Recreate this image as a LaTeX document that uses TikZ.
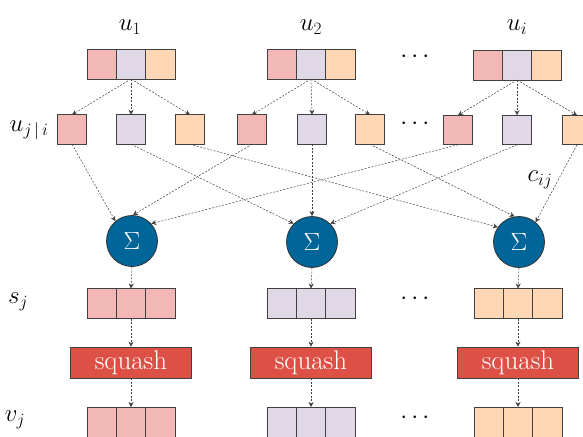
\documentclass[tikz,border=0pt]{standalone}
\usepackage{amsmath}
\usetikzlibrary{arrows.meta}
\usetikzlibrary{positioning}

\definecolor{vecred}{HTML}{F2B8B6}
\definecolor{veclilac}{HTML}{E0D7E7}
\definecolor{vecpeach}{HTML}{FFD7B5}
\definecolor{sumblue}{HTML}{00669A}
\definecolor{squashred}{HTML}{DD5045}

\begin{document}
\begin{tikzpicture}[
    x=1pt, y=-1pt,
    every node/.style={font=\fontsize{26}{30}\selectfont},
    cell/.style={draw=black!75, line width=0.8pt, minimum width=29.3pt, minimum height=30pt, inner sep=0pt, outer sep=0pt},
    pred/.style={cell, minimum width=29.5pt, minimum height=29.5pt},
    sumnode/.style={circle, draw=black!80, line width=0.8pt, fill=sumblue, text=white, minimum size=51pt, inner sep=0pt, font=\fontsize{29}{32}\selectfont},
    squashbox/.style={draw=black!75, line width=0.8pt, fill=squashred, text=white, minimum width=121pt, minimum height=31pt, inner sep=0pt, font=\fontsize{27}{30}\selectfont},
    arr/.style={-{Stealth[length=5pt,width=5pt]}, line width=0.5pt, black!75, dash pattern=on 2pt off 1.5pt}
]
\useasboundingbox (0,0) rectangle (583,436);

% Top: input capsules u_i
\node (lu1) at (130,27) {$u_1$};
\node (lu2) at (311,27) {$u_2$};
\node (lui) at (517,27) {$u_i$};

\node[cell, fill=veclilac] (u1b) at (131,64) {};
\node[cell, fill=vecred, left=0pt of u1b] (u1a) {};
\node[cell, fill=vecpeach, right=0pt of u1b] (u1c) {};

\node[cell, fill=veclilac] (u2b) at (311,64) {};
\node[cell, fill=vecred, left=0pt of u2b] (u2a) {};
\node[cell, fill=vecpeach, right=0pt of u2b] (u2c) {};

\node[cell, fill=veclilac] (uib) at (517,65) {};
\node[cell, fill=vecred, left=0pt of uib] (uia) {};
\node[cell, fill=vecpeach, right=0pt of uib] (uic) {};

\node (dtop) at (417,57) {$\cdots$};

% Predictions u_{j|i}
\node (lpred) at (29,130) {$u_{j\,|\,i}$};
\node[pred, fill=vecred] (p1) at (72,129.5) {};
\node[pred, fill=veclilac] (p2) at (131,129.5) {};
\node[pred, fill=vecpeach] (p3) at (190,129.5) {};
\node[pred, fill=vecred] (p4) at (252,129.5) {};
\node[pred, fill=veclilac] (p5) at (312,129.5) {};
\node[pred, fill=vecpeach] (p6) at (370,129.5) {};
\node (dpred) at (417,124) {$\cdots$};
\node[pred, fill=vecred] (p7) at (458,130) {};
\node[pred, fill=veclilac] (p8) at (517,130) {};
\node[pred, fill=vecpeach] (p9) at (577,130) {};

\draw[arr] (u1b.south) -- (p1.north);
\draw[arr] (u1b.south) -- (p2.north);
\draw[arr] (u1b.south) -- (p3.north);
\draw[arr] (u2b.south) -- (p4.north);
\draw[arr] (u2b.south) -- (p5.north);
\draw[arr] (u2b.south) -- (p6.north);
\draw[arr] (uib.south) -- (p7.north);
\draw[arr] (uib.south) -- (p8.north);
\draw[arr] (uib.south) -- (p9.north);

% Weighted sums
\node[sumnode] (sum1) at (132,241) {$\Sigma$};
\node[sumnode] (sum2) at (312,242) {$\Sigma$};
\node[sumnode] (sum3) at (519,242) {$\Sigma$};

\draw[arr] (p1.south) -- (sum1.130);
\draw[arr] (p4.south) -- (sum1.88);
\draw[arr] (p7.south) -- (sum1.42);
\draw[arr] (p2.south) -- (sum2.135);
\draw[arr] (p5.south) -- (sum2.90);
\draw[arr] (p8.south) -- (sum2.45);
\draw[arr] (p3.south) -- (sum3.145);
\draw[arr] (p6.south) -- (sum3.100);
\draw[arr] (p9.south) -- (sum3.50);

\node (lc) at (540,180) {$c_{ij}$};

% Outputs s_j
\node (ls) at (18,302) {$s_j$};
\node[cell, fill=vecred] (s1b) at (131,303.5) {};
\node[cell, fill=vecred, left=0pt of s1b] (s1a) {};
\node[cell, fill=vecred, right=0pt of s1b] (s1c) {};

\node[cell, fill=veclilac] (s2b) at (311,303.5) {};
\node[cell, fill=veclilac, left=0pt of s2b] (s2a) {};
\node[cell, fill=veclilac, right=0pt of s2b] (s2c) {};

\node[cell, fill=vecpeach] (s3b) at (518,303.5) {};
\node[cell, fill=vecpeach, left=0pt of s3b] (s3a) {};
\node[cell, fill=vecpeach, right=0pt of s3b] (s3c) {};

\node (dsum) at (417,299) {$\cdots$};

\draw[arr] (sum1.south) -- (s1b.north);
\draw[arr] (sum2.south) -- (s2b.north);
\draw[arr] (sum3.south) -- (s3b.north);

% Squashing
\node[squashbox] (sq1) at (131,362.5) {squash};
\node[squashbox] (sq2) at (311,362.5) {squash};
\node[squashbox] (sq3) at (518,362.5) {squash};

\draw[arr] (s1b.south) -- (sq1.north);
\draw[arr] (s2b.south) -- (sq2.north);
\draw[arr] (s3b.south) -- (sq3.north);

% Outputs v_j
\node (lv) at (15,420) {$v_j$};
\node[cell, fill=vecred] (v1b) at (131,422) {};
\node[cell, fill=vecred, left=0pt of v1b] (v1a) {};
\node[cell, fill=vecred, right=0pt of v1b] (v1c) {};

\node[cell, fill=veclilac] (v2b) at (311,422) {};
\node[cell, fill=veclilac, left=0pt of v2b] (v2a) {};
\node[cell, fill=veclilac, right=0pt of v2b] (v2c) {};

\node[cell, fill=vecpeach] (v3b) at (518,422) {};
\node[cell, fill=vecpeach, left=0pt of v3b] (v3a) {};
\node[cell, fill=vecpeach, right=0pt of v3b] (v3c) {};

\node (dout) at (417,418) {$\cdots$};

\draw[arr] (sq1.south) -- (v1b.north);
\draw[arr] (sq2.south) -- (v2b.north);
\draw[arr] (sq3.south) -- (v3b.north);

\end{tikzpicture}
\end{document}
